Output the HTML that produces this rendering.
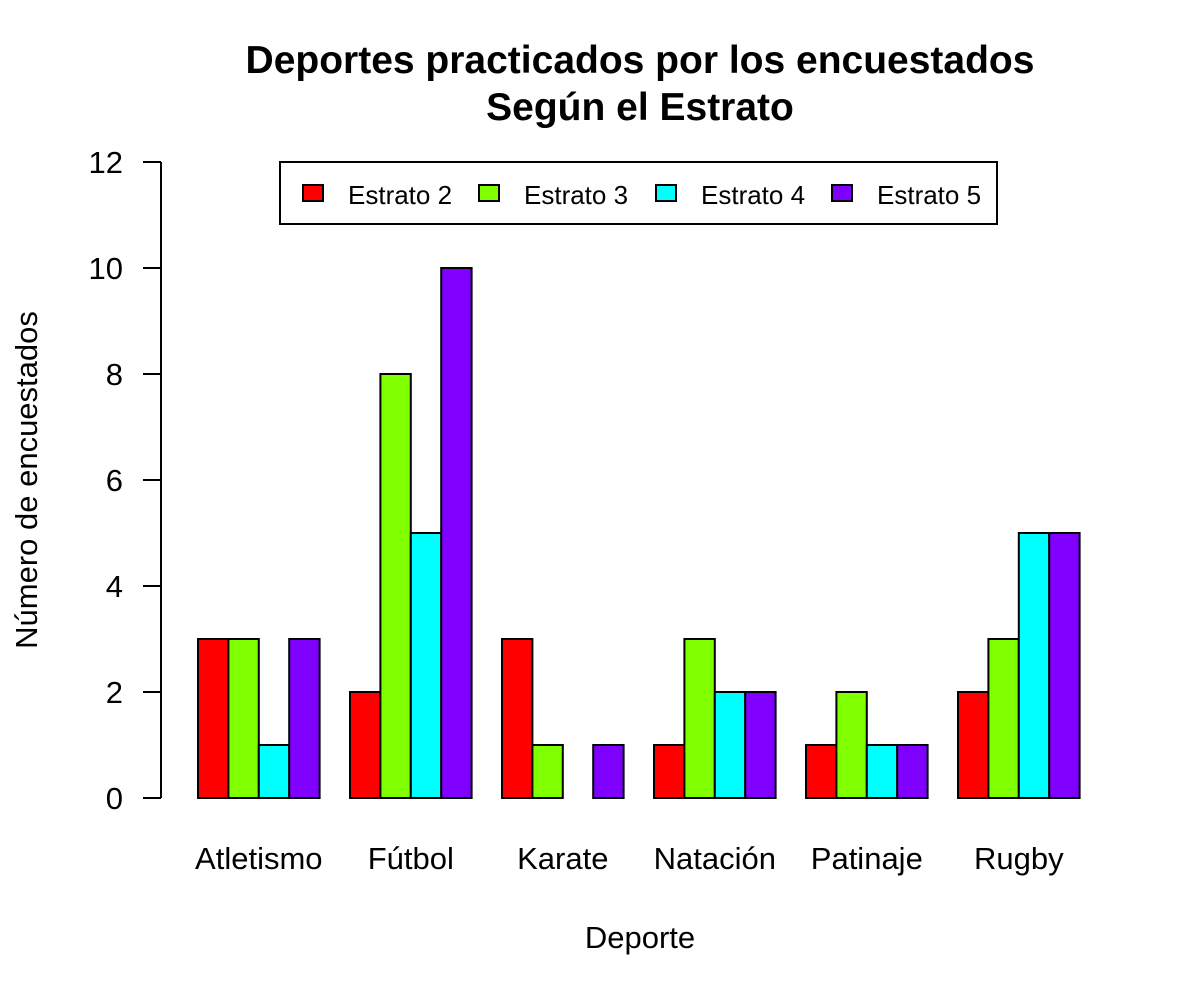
<!DOCTYPE html>
<html><head><meta charset="utf-8"><style>body{margin:0;background:#fff}svg{display:block;font-family:"Liberation Sans",Arial,sans-serif}</style></head>
<body>
<svg id="chart" width="1200" height="1000">
<text x="640" y="73" font-size="39" font-weight="bold" text-anchor="middle">Deportes practicados por los encuestados</text>
<text x="640" y="120" font-size="39" font-weight="bold" text-anchor="middle">Según el Estrato</text>
<text x="640" y="948" font-size="31" text-anchor="middle">Deporte</text>
<text transform="translate(37,480) rotate(-90)" font-size="31" text-anchor="middle">Número de encuestados</text>
<g id="axis"></g><g id="bars"></g>
<g id="legend">
<rect x="280" y="162" width="717" height="62" fill="#fff" stroke="#000" stroke-width="2"/>
</g>
</svg>
<script>
const categories=["Atletismo","Fútbol","Karate","Natación","Patinaje","Rugby"];
const seriesNames=["Estrato 2","Estrato 3","Estrato 4","Estrato 5"];
const estrato2=[3,2,3,1,1,2];
const estrato3=[3,8,1,3,2,3];
const estrato4=[1,5,0,2,1,5];
const estrato5=[3,10,1,2,1,5];
const yTicks=[0,2,4,6,8,10,12];
const colors=["#ff0000","#80ff00","#00ffff","#8000ff"];
const series=[estrato2,estrato3,estrato4,estrato5];
const NS="http://www.w3.org/2000/svg";
const y=v=>798-v*53;
const bw=30.4, x0=198, gstep=152;
const xb=(g,s)=>x0+g*gstep+s*bw;
function mk(t,a,p){const e=document.createElementNS(NS,t);for(const k in a)e.setAttribute(k,a[k]);p.appendChild(e);return e;}
const ax=document.getElementById('axis');
const l=mk('line',{x1:161,x2:161,y1:y(0),y2:y(yTicks[yTicks.length-1]),stroke:'#000','stroke-width':2},ax);


yTicks.forEach(t=>{
 const tk=mk('line',{x1:143,x2:161,y1:y(t),y2:y(t),stroke:'#000','stroke-width':2},ax);
 
 
 const tx=mk('text',{x:123,y:y(t)+11,'font-size':31,'text-anchor':'end'},ax);
 tx.textContent=t;
 
 
});
const bg=document.getElementById('bars');
categories.forEach((c,g)=>{
 series.forEach((s,i)=>{
  const r=mk('rect',{x:xb(g,i),y:y(s[g]),width:bw,height:y(0)-y(s[g]),fill:colors[i],stroke:'#000','stroke-width':2},bg);
  
  
 });
 const tx=mk('text',{x:xb(g,2),y:869,'font-size':31,'text-anchor':'middle'},bg);
 tx.textContent=c;
 
 
});
const lg=document.getElementById('legend');
const lx=[303,479,656,832];
seriesNames.forEach((n,i)=>{
 const r=mk('rect',{x:lx[i],y:185,width:20,height:16,fill:colors[i],stroke:'#000','stroke-width':2},lg);
 
 
 const t=mk('text',{x:lx[i]+45,y:204,'font-size':26},lg);
 t.textContent=n;
 
 
});
</script>
</body></html>
